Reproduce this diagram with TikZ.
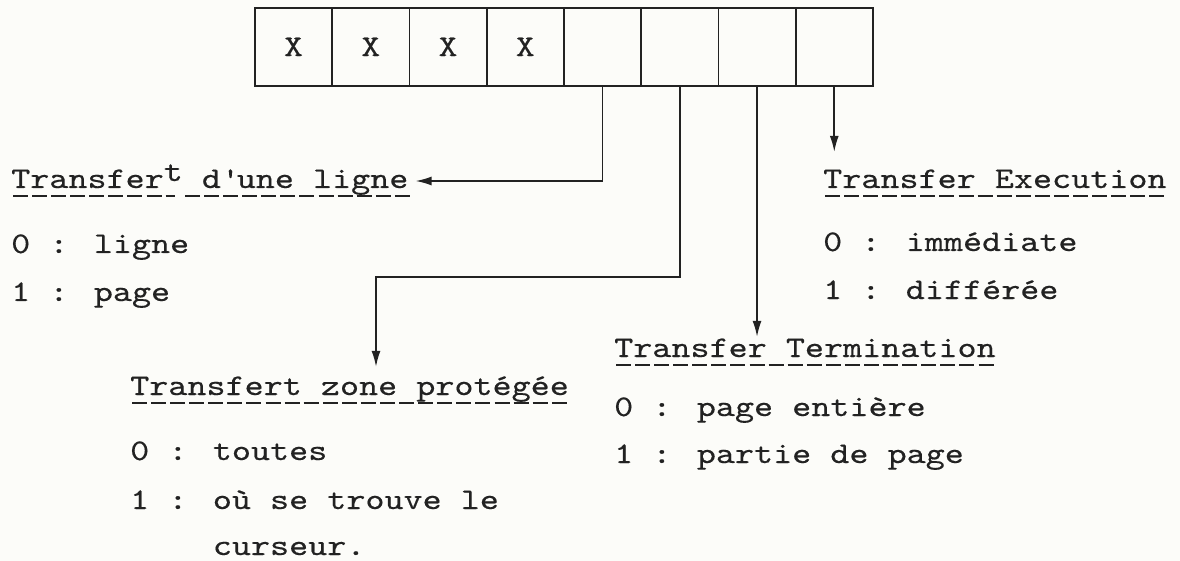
\documentclass[tikz,border=0pt]{standalone}
\usepackage{fontspec}
\newfontfamily\tw{lmmono10-regular.otf}[FakeBold=0.35,FakeStretch=1.211]
\usetikzlibrary{arrows.meta}
\definecolor{ink}{HTML}{222222}
\definecolor{paper}{HTML}{FCFCF9}
\newcommand\tws{\tw\fontsize{30pt}{36pt}\selectfont}
\begin{document}
\begin{tikzpicture}[x=1pt,y=-1pt,
  cell/.style={draw=ink,line width=1.8pt,minimum width=77.25pt,minimum height=78pt,
    inner sep=0pt,anchor=north west,font=\tws,text=ink},
  ttl/.style={anchor=base west,inner sep=0pt,text height=20pt,text depth=6pt,font=\tws,text=ink},
  txt/.style={anchor=base west,inner sep=0pt,font=\tws,text=ink},
  arr/.style={draw=ink,line width=1.6pt,-{Latex[length=16pt,width=9pt]}},
  ul/.style={draw=ink,line width=1.8pt,dash pattern=on 15pt off 4.08pt}
]
\useasboundingbox (0,0) rectangle (1180,561);
\fill[paper] (0,0) rectangle (1180,561);

% register
\foreach \i/\t in {1/X,2/X,3/X,4/X,5/,6/,7/,8/}
  \node[cell] (c\i) at ({254+77.25*(\i-1)},7) {\t};

% titles
\node[ttl] (t1) at (11,188) {Transfer\raisebox{7pt}{t} d\textquotesingle une ligne};
\node[ttl] (te) at (823,188) {Transfer Execution};
\node[ttl] (tt) at (614,357) {Transfer Termination};
\node[ttl] (tz) at (130,395) {Transfert zone protégée};

% underlines
\draw[ul] (13,196) -- (175,196);
\draw[ul] (185,196) -- (410,196);
\draw[ul] (825,196) -- (1164,196);
\draw[ul] (616,365) -- (995,365);
\draw[ul] (132,403) -- (568,403);

% values
\node[txt] (t1a) at (11,253) {0 : ligne};
\node[txt] (t1b) at (11,301) {1 : page};
\node[txt] (tea) at (823,251) {0 : immédiate};
\node[txt] (teb) at (823,299) {1 : différée};
\node[txt] (tta) at (614,416) {0 : page entière};
\node[txt] (ttb) at (614,463) {1 : partie de page};
\node[txt] (tza) at (130,460) {0 : toutes};
\node[txt] (tzb) at (130,509) {1 : où se trouve le};
\node[txt] (tzc) at (130,555) {\phantom{1 : }curseur.};

% connectors
\coordinate (k2) at (376,277);
\draw[arr] (c5.south) |- ([xshift=7pt]t1.east);
\draw[arr] (c6.south) |- (k2) -- ([yshift=8pt]k2 |- tz.north);
\draw[arr] (c7.south) -- (c7.south |- tt.north);
\draw[arr] (c8.south) -- ([yshift=16pt]c8.south |- te.north);
\end{tikzpicture}
\end{document}
